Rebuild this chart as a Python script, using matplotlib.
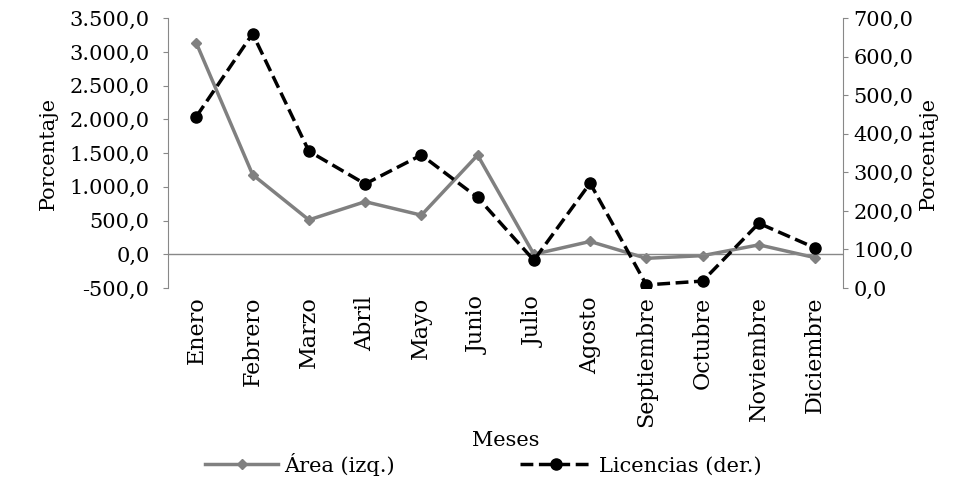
import matplotlib
matplotlib.use("Agg")
import matplotlib.pyplot as plt
from matplotlib.ticker import FuncFormatter, FixedLocator

meses = ["Enero","Febrero","Marzo","Abril","Mayo","Junio","Julio","Agosto",
         "Septiembre","Octubre","Noviembre","Diciembre"]
area = [3130, 1180, 510, 780, 580, 1470, 0, 190, -60, -20, 140, -50]
licencias = [445, 660, 355, 270, 345, 235, 72, 272, 8, 18, 168, 104]

plt.rcParams['font.family'] = ['DejaVu Serif']
plt.rcParams['font.size'] = 15

def fmt(v, _):
    s = f"{v:,.1f}"
    return s.replace(",", "X").replace(".", ",").replace("X", ".")

fig = plt.figure(figsize=(9.67, 4.8), dpi=100)
ax = fig.add_axes([0.174, 0.4, 0.698, 0.562])
x = list(range(len(meses)))
ax.plot(x, area, color="#808080", lw=2.5, marker="D", ms=5, label="Área (izq.)")
ax.set_ylim(-500, 3500)
ax.set_xlim(-0.5, 11.5)
ax.yaxis.set_major_locator(FixedLocator(range(-500, 3501, 500)))
ax.yaxis.set_major_formatter(FuncFormatter(fmt))
ax.axhline(0, color="#888888", lw=1)
ax.set_xticks(x)
ax.set_xticklabels(meses, rotation=90, fontsize=16)
ax.tick_params(axis="x", length=0, pad=6)
ax.tick_params(axis="y", color="#888888", pad=10)
for s in ["top", "bottom", "right"]:
    ax.spines[s].set_visible(False)
ax.spines["left"].set_color("#888888")
ax.set_ylabel("Porcentaje", labelpad=8)
ax.set_xlabel("Meses")
ax.xaxis.set_label_coords(0.5, -0.53)

ax2 = ax.twinx()
ax2.plot(x, licencias, color="black", lw=2.5, ls="--", marker="o", ms=8, label="Licencias (der.)")
ax2.set_ylim(0, 700)
ax2.yaxis.set_major_locator(FixedLocator(range(0, 701, 100)))
ax2.yaxis.set_major_formatter(FuncFormatter(fmt))
ax2.tick_params(axis="y", color="#888888", pad=4)
for s in ["top", "bottom", "left"]:
    ax2.spines[s].set_visible(False)
ax2.spines["right"].set_color("#888888")
ax2.set_ylabel("Porcentaje", labelpad=4)

h1, l1 = ax.get_legend_handles_labels()
h2, l2 = ax2.get_legend_handles_labels()
fig.legend(h1 + h2, l1 + l2, loc="lower center", bbox_to_anchor=(0.5, -0.03),
           ncol=2, frameon=False, columnspacing=6, handlelength=3.5, handletextpad=0.3)
fig.savefig("out.png", dpi=100)
